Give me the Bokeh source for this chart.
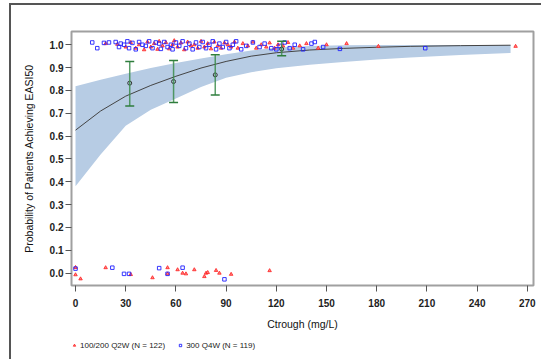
from bokeh.plotting import figure
from bokeh.layouts import column
from bokeh.models import (FixedTicker, NumeralTickFormatter, Whisker, ColumnDataSource,
                          Legend, LegendItem, TeeHead, Range1d)
from bokeh.embed import file_html
from bokeh.resources import INLINE

# ---- data ----
curve_x = [0, 15, 30, 45, 60, 75, 90, 105, 120, 140, 160, 180, 200, 230, 260]
curve_p = [0.626, 0.71, 0.775, 0.822, 0.862, 0.898, 0.927, 0.950, 0.965, 0.977, 0.984, 0.989, 0.993, 0.996, 0.998]
band_lo = [0.38, 0.52, 0.645, 0.715, 0.765, 0.815, 0.855, 0.88, 0.897, 0.912, 0.925, 0.935, 0.944, 0.955, 0.964]
band_hi = [0.818, 0.847, 0.873, 0.898, 0.92, 0.94, 0.958, 0.975, 0.988, 0.995, 0.998, 0.999, 0.999, 0.999, 0.999]

bin_x = [32.4, 58.6, 83.5, 123.2]
bin_mean = [0.832, 0.839, 0.868, 0.981]
bin_lo = [0.732, 0.747, 0.780, 0.952]
bin_hi = [0.927, 0.931, 0.956, 1.015]

q2w_x = [18, 25, 30, 33, 36, 38, 41, 43, 45, 47, 49, 50, 52, 54, 56, 58, 59, 61, 63, 65, 67, 69, 71, 73,
         75, 77, 79, 81, 83, 85, 87, 89, 91, 93, 95, 97, 100, 103, 106, 108, 111, 114, 116, 119, 121,
         124, 127, 130, 134, 138, 145, 150, 162, 181, 263,
         0, 0, 3, 18, 33, 46, 55, 55, 61, 64, 66, 71, 77, 78, 79, 84, 86, 93, 116]
q2w_y = [1.005, 1.002, 0.99, 1.01, 0.985, 1.0, 0.978, 1.012, 0.99, 1.005, 0.98, 1.015, 0.995, 1.01, 0.982,
         1.0, 1.018, 0.99, 1.008, 0.978, 1.012, 0.995, 1.0, 0.985, 1.015, 0.99, 1.005, 0.982, 1.012, 0.995,
         0.985, 1.008, 1.0, 0.99, 1.012, 0.985, 1.005, 0.995, 1.012, 0.985, 1.0, 0.99, 1.008, 0.985, 1.0,
         0.995, 1.01, 0.985, 0.995, 1.005, 0.985, 1.0, 1.005, 0.993, 0.993,
         -0.007, 0.025, -0.025, 0.024, -0.006, -0.02, 0.024, -0.003, 0.015, 0.0, -0.003, 0.015, -0.015,
         0.0, 0.003, 0.012, 0.0, -0.005, 0.011]

q4w_x = [10, 13, 17, 20, 24, 26, 27, 29, 31, 32, 34, 36, 38, 40, 42, 44, 46, 48, 50, 51, 53, 55, 57, 58,
         60, 62, 64, 66, 68, 70, 72, 74, 76, 78, 80, 82, 84, 86, 88, 90, 92, 94, 96, 99, 102, 106, 110,
         113, 117, 120, 122, 125, 128, 131, 136, 141, 143, 148, 158, 209,
         0, 22, 29, 32, 50, 55, 64, 89]
q4w_y = [1.01, 0.985, 1.008, 1.01, 1.012, 0.99, 1.005, 1.0, 1.015, 0.985, 1.008, 0.98, 1.012, 1.0, 0.995,
         1.015, 0.985, 1.01, 1.005, 0.982, 1.012, 0.99, 1.0, 0.98, 1.01, 0.995, 1.015, 0.985, 1.005, 0.98,
         1.01, 0.99, 1.012, 0.985, 1.0, 1.015, 0.98, 1.005, 0.99, 1.012, 0.985, 1.0, 1.015, 0.98, 0.995,
         1.01, 0.99, 1.005, 0.985, 0.98, 0.995, 1.01, 0.985, 1.0, 0.98, 1.005, 1.012, 0.99, 0.982, 0.985,
         0.02, 0.024, -0.003, -0.003, 0.022, -0.003, 0.024, -0.027]

x_ticks = [0, 30, 60, 90, 120, 150, 180, 210, 240, 270]
y_ticks = [0.0, 0.1, 0.2, 0.3, 0.4, 0.5, 0.6, 0.7, 0.8, 0.9, 1.0]
q2w_label = "100/200 Q2W (N = 122)"
q4w_label = "300 Q4W (N = 119)"

FONT = "Liberation Sans"
Q2W_STYLE = dict(marker="triangle", size=3.5, fill_color="#ff8080", line_color="#ff2020", line_width=0.8)
Q4W_STYLE = dict(marker="square", size=3.5, fill_color=None, line_color="#2020ff", line_width=0.9)

main = figure(width=530, height=328, output_backend="svg", toolbar_location=None,
              x_range=Range1d(-2.4, 273.7), y_range=Range1d(-0.054, 1.058),
              min_border_left=59, min_border_right=8, min_border_top=26, min_border_bottom=48)
main.background_fill_color = "white"
main.border_fill_color = "white"
main.outline_line_color = "#a0a0a0"
main.outline_line_width = 2
main.grid.visible = False

# band and curve
main.varea(x=curve_x, y1=band_lo, y2=band_hi, fill_color="#b7cce4", fill_alpha=1.0)
main.line(curve_x, curve_p, line_color="#444444", line_width=1)

# scatter
main.scatter(q2w_x, q2w_y, **Q2W_STYLE)
main.scatter(q4w_x, q4w_y, **Q4W_STYLE)

# binned observed with error bars
src = ColumnDataSource(dict(x=bin_x, m=bin_mean, lo=bin_lo, hi=bin_hi))
w = Whisker(source=src, base="x", lower="lo", upper="hi", line_color="#3c8c4c", line_alpha=0.85,
            line_width=1.5, level="overlay",
            upper_head=TeeHead(size=9, line_color="#2e7d3c", line_width=1.5),
            lower_head=TeeHead(size=9, line_color="#2e7d3c", line_width=1.5))
main.add_layout(w)
main.scatter("x", "m", source=src, marker="circle", size=4, fill_color=None,
             line_color="#333333", line_width=1, level="overlay")

# axes
for ax in (main.xaxis[0], main.yaxis[0]):
    ax.axis_line_color = None
    ax.major_tick_in = 0
    ax.major_tick_out = 6
    ax.minor_tick_line_color = None
    ax.major_tick_line_color = "#555555"
    ax.major_label_text_font = FONT
    ax.major_label_text_font_style = "bold"
    ax.major_label_text_font_size = "10px"
    ax.major_label_text_color = "#222222"
    ax.axis_label_text_font = FONT
    ax.axis_label_text_font_style = "normal"
    ax.axis_label_text_font_size = "10.5px"
    ax.axis_label_text_color = "#111111"

main.xaxis.ticker = FixedTicker(ticks=x_ticks)
main.yaxis.ticker = FixedTicker(ticks=y_ticks)
main.yaxis.formatter = NumeralTickFormatter(format="0.0")
main.xaxis.axis_label = "Ctrough (mg/L)"
main.yaxis.axis_label = "Probability of Patients Achieving EASI50"
main.xaxis.major_label_standoff = 7
main.xaxis.axis_label_standoff = 8
main.yaxis.major_label_standoff = 2
main.yaxis.axis_label_standoff = 12

# legend strip (a frameless figure holding the legend)
leg = figure(width=530, height=26, output_backend="svg", toolbar_location=None,
             x_range=Range1d(0, 1), y_range=Range1d(0, 1),
             x_axis_location=None, y_axis_location=None,
             min_border_left=60, min_border_right=0, min_border_top=6, min_border_bottom=0)
leg.outline_line_color = None
leg.grid.visible = False
leg.background_fill_color = "white"
leg.border_fill_color = "white"
lr1 = leg.scatter([-5], [-5], **Q2W_STYLE)
lr2 = leg.scatter([-5], [-5], **Q4W_STYLE)
legend = Legend(items=[LegendItem(label=q2w_label, renderers=[lr1]),
                       LegendItem(label=q4w_label, renderers=[lr2])],
                orientation="horizontal", location="top_left",
                label_text_font=FONT, label_text_font_size="8px", label_text_color="#222222",
                glyph_width=6, glyph_height=8, label_height=12, label_standoff=3,
                spacing=12, padding=2, margin=0, border_line_color=None,
                background_fill_alpha=0)
leg.add_layout(legend)

p = column(main, leg, spacing=0, margin=(3, 0, 0, 9),
           styles={"border-left": "2px solid #555555", "border-top": "2px solid #555555"})

open("out.html", "w").write(file_html(p, INLINE))
